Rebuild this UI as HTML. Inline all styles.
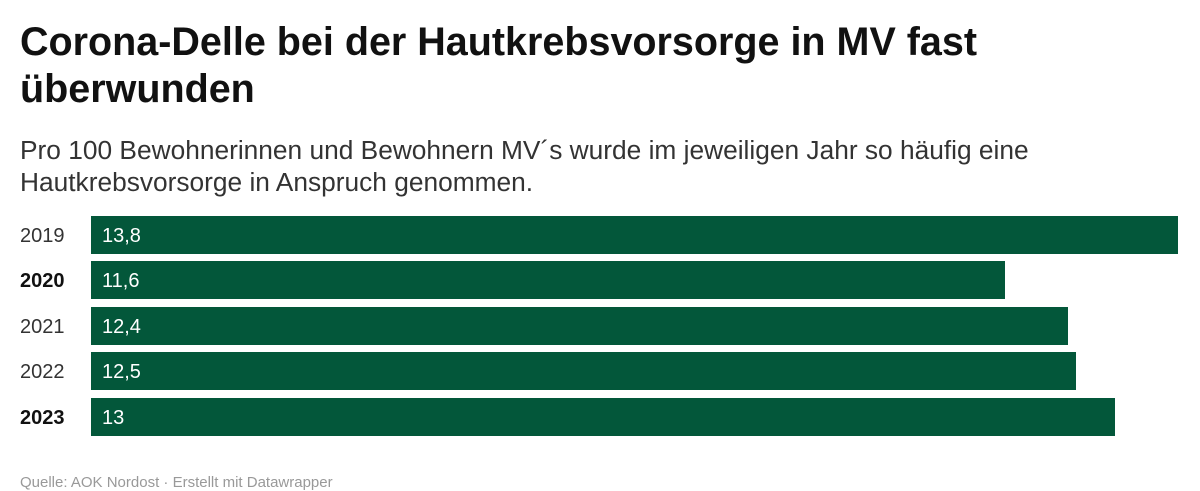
<!DOCTYPE html>
<html><head><meta charset="utf-8"><style>
body{margin:0;width:1200px;height:480px;overflow:hidden;background:#fff;font-family:"Liberation Sans",Arial,sans-serif;position:relative}
h1{position:absolute;left:20px;top:19px;margin:0;font-size:39.5px;line-height:47px;font-weight:bold;color:#111;width:1050px}
.sub{position:absolute;left:20px;top:134px;font-size:26.3px;line-height:32px;color:#333;width:1070px}
.row{position:absolute;left:0;height:38px}
.lab{position:absolute;left:20px;width:60px;font-size:20px;line-height:40px;color:#333}
.bar{position:absolute;left:91px;height:38px;background:#03573a;color:#fff;font-size:20px;line-height:40px;padding-left:11px;box-sizing:border-box}
.foot{position:absolute;left:20px;top:474px;font-size:15px;color:#999}
</style></head><body>
<h1>Corona-Delle bei der Hautkrebsvorsorge in MV fast überwunden</h1>
<div class="sub">Pro 100 Bewohnerinnen und Bewohnern MV´s wurde im jeweiligen Jahr so häufig eine Hautkrebsvorsorge in Anspruch genommen.</div>
<div class="row" style="top:216px"><div class="lab">2019</div><div class="bar" style="width:1087px">13,8</div></div>
<div class="row" style="top:261px"><div class="lab" style="font-weight:bold;color:#111">2020</div><div class="bar" style="width:914px">11,6</div></div>
<div class="row" style="top:307px"><div class="lab">2021</div><div class="bar" style="width:977px">12,4</div></div>
<div class="row" style="top:352px"><div class="lab">2022</div><div class="bar" style="width:985px">12,5</div></div>
<div class="row" style="top:398px"><div class="lab" style="font-weight:bold;color:#111">2023</div><div class="bar" style="width:1024px">13</div></div>
<div class="foot">Quelle: AOK Nordost · Erstellt mit Datawrapper</div>
</body></html>
